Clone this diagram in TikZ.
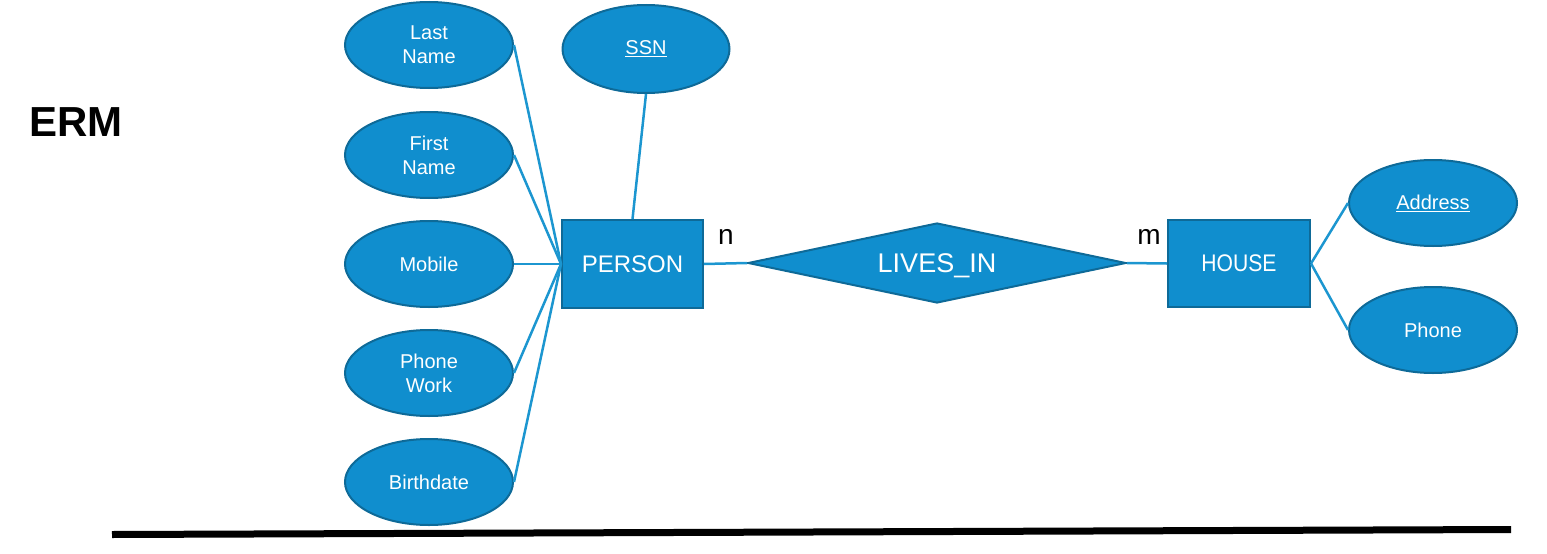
\documentclass[tikz,border=0pt]{standalone}
\usepackage{fontspec}
\setmainfont{Liberation Sans}
\usetikzlibrary{shapes.geometric}
\definecolor{erfill}{RGB}{16,142,206}
\definecolor{erborder}{RGB}{14,106,152}
\definecolor{erline}{RGB}{28,150,208}
\tikzset{
  attr/.style={ellipse, draw=erborder, line width=2pt, fill=erfill, text=white,
    minimum width=168pt, minimum height=86pt, inner sep=0pt, align=center,
    font=\fontsize{20}{24}\selectfont},
  entity/.style={rectangle, draw=erborder, line width=2pt, fill=erfill, text=white,
    inner sep=0pt, font=\fontsize{24}{28}\selectfont},
  rel/.style={diamond, draw=erborder, line width=2pt, fill=erfill, text=white,
    inner sep=0pt, minimum width=378pt, minimum height=80pt, aspect=4.7,
    text height=19pt, text depth=0pt,
    font=\fontsize{27}{32}\selectfont},
  conn/.style={draw=erline, line width=2.5pt},
  card/.style={font=\fontsize{28}{32}\selectfont, text=black, inner sep=0pt}
}
\begin{document}
\begin{tikzpicture}[x=1pt,y=-1pt]
\useasboundingbox (0,0) rectangle (1547,554);
\node[font=\bfseries\fontsize{42}{48}\selectfont, inner sep=0pt] (erm) at (76,122) {ERM};

\node[entity, minimum width=141pt, minimum height=88pt] (person) at (632.5,264) {PERSON};
\node[entity, minimum width=142pt, minimum height=87pt] (house) at (1239,263.5) {\scalebox{0.88}[1]{HOUSE}};
\node[rel] (lives) at (937,263) {LIVES\_IN};

\node[attr] (last) at (429,45) {Last\\Name};
\node[attr] (first) at (429,155) {First\\Name};
\node[attr] (mobile) at (429,264) {Mobile};
\node[attr] (work) at (429,373) {Phone\\Work};
\node[attr] (birth) at (429,482) {Birthdate};
\node[attr, minimum width=167pt, minimum height=88pt] (ssn) at (646,49) {\underline{SSN}};
\node[attr] (addr) at (1433,203) {\underline{Address}};
\node[attr] (phone) at (1433,330) {Phone};

\node[card] (n) at (726,237) {n};
\node[card] (m) at (1149,237) {m};

\draw[conn] (last.east) -- (person.west);
\draw[conn] (first.east) -- (person.west);
\draw[conn] (mobile.east) -- (person.west);
\draw[conn] (work.east) -- (person.west);
\draw[conn] (birth.east) -- (person.west);
\draw[conn] (ssn.south) -- (person.north);
\draw[conn] (person.east) -- (lives.west);
\draw[conn] (lives.east) -- (house.west);
\draw[conn] (house.east) -- (addr.west);
\draw[conn] (house.east) -- (phone.west);

\coordinate (la) at (112,534.5);
\coordinate (lb) at (1511,529.5);
\draw[line width=7pt, black] (la) -- (lb);
\end{tikzpicture}
\end{document}
